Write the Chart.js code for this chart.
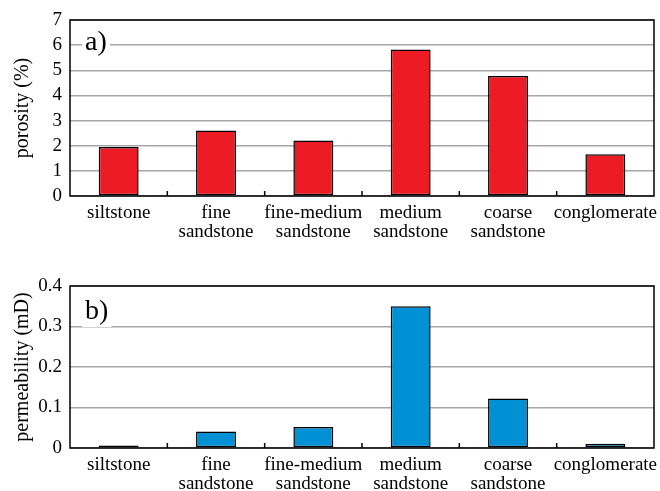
<!DOCTYPE html>
<html>
<head>
<meta charset="utf-8">
<script src="https://cdn.jsdelivr.net/npm/chart.js@4.4.0/dist/chart.umd.min.js"></script>
<style>
  body { margin: 0; background: #fff; overflow: hidden; }
  canvas { display: block; }
</style>
</head>
<body>
<canvas id="porosityChart" width="660" height="245"></canvas>
<canvas id="permChart" width="660" height="246"></canvas>
<script>
const rockTypes = ['siltstone', ['fine', 'sandstone'], ['fine-medium', 'sandstone'],
    ['medium', 'sandstone'], ['coarse', 'sandstone'], 'conglomerate'];
const porosity = [1.95, 2.61, 2.21, 5.83, 4.77, 1.66];
const permeability = [0.006, 0.041, 0.052, 0.35, 0.122, 0.0105];
const porosityTicks = [0, 1, 2, 3, 4, 5, 6, 7];
const permTicks = [0, 0.1, 0.2, 0.3, 0.4];

const serif = "'Liberation Serif', 'Times New Roman', serif";

// black frame, inner category ticks and the a)/b) tag
const framePlugin = {
    id: 'frame',
    afterDraw(chart, args, opts) {
        const ctx = chart.ctx;
        const a = chart.chartArea;
        const x = chart.scales.x;
        ctx.save();
        ctx.strokeStyle = '#000';
        ctx.lineWidth = 1.5;
        ctx.strokeRect(a.left, a.top, a.right - a.left, a.bottom - a.top);
        for (let i = 1; i < rockTypes.length; i++) {
            const px = (x.getPixelForValue(i - 1) + x.getPixelForValue(i)) / 2;
            ctx.beginPath();
            ctx.moveTo(px, a.bottom);
            ctx.lineTo(px, a.bottom - 5);
            ctx.stroke();
        }
        ctx.font = '28px ' + serif;
        const w = ctx.measureText(opts.tag).width;
        ctx.fillStyle = '#fff';
        ctx.fillRect(a.left + 12, a.top + opts.tagY - 15, w + 6, 30);
        ctx.fillStyle = '#000';
        ctx.textBaseline = 'middle';
        ctx.fillText(opts.tag, a.left + 15, a.top + opts.tagY);
        ctx.restore();
    }
};

function makeChart(id, values, ticks, max, color, title, tag, tagY, padTop, xHeight) {
    const ctx = document.getElementById(id).getContext('2d');
    return new Chart(ctx, {
        type: 'bar',
        data: {
            labels: rockTypes,
            datasets: [{
                data: values,
                backgroundColor: color,
                borderColor: '#000',
                borderWidth: 1.5,
                borderSkipped: false,
                barPercentage: 0.41,
                categoryPercentage: 1.0
            }]
        },
        options: {
            responsive: false,
            animation: false,
            layout: { padding: { top: padTop, right: 6, left: 0, bottom: 0 } },
            plugins: {
                legend: { display: false },
                tooltip: { enabled: false },
                frame: { tag: tag, tagY: tagY }
            },
            scales: {
                x: {
                    grid: { display: false },
                    border: { display: false },
                    ticks: {
                        color: '#000',
                        maxRotation: 0,
                        autoSkip: false,
                        padding: 0,
                        font: { family: serif, size: 19, lineHeight: 0.98 }
                    },
                    afterFit(scale) {
                        scale.height = xHeight;
                        scale.paddingLeft = 0;
                        scale.paddingRight = 0;
                    }
                },
                y: {
                    min: 0,
                    max: max,
                    afterBuildTicks(scale) { scale.ticks = ticks.map(v => ({ value: v })); },
                    grid: { color: '#a6a6a6', lineWidth: 1.5, drawTicks: false },
                    border: { display: false },
                    ticks: {
                        color: '#000',
                        padding: 8,
                        autoSkip: false,
                        font: { family: serif, size: 19 }
                    },
                    title: {
                        display: true,
                        text: title,
                        color: '#000',
                        padding: { top: 11, bottom: 0 },
                        font: { family: serif, size: 20 }
                    },
                    afterFit(scale) {
                        scale.width = 70;
                        scale.paddingTop = 0;
                        scale.paddingBottom = 0;
                    }
                }
            }
        },
        plugins: [framePlugin]
    });
}

makeChart('porosityChart', porosity, porosityTicks, 7, '#ed1c24', 'porosity (%)', 'a)', 23, 20, 49);
makeChart('permChart', permeability, permTicks, 0.4, '#0091d5', 'permeability (mD)', 'b)', 26, 41, 43);
</script>
</body>
</html>
